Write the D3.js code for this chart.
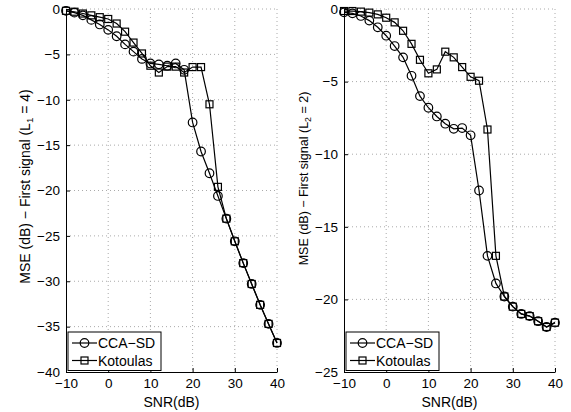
<!DOCTYPE html>
<html>
<head>
<meta charset="utf-8">
<script src="https://cdn.jsdelivr.net/npm/d3@7"></script>
<style>
  body { margin: 0; background: #fff; }
  text { font-family: "Liberation Sans", Arial, sans-serif; }
</style>
</head>
<body>
<div id="root"></div>
<script>
const snr = [-10, -8, -6, -4, -2, 0, 2, 4, 6, 8, 10, 12, 14, 16, 18, 20, 22, 24, 26, 28, 30, 32, 34, 36, 38, 40]

// left panel (L1 = 4)
const ccaLeft = [-0.2, -0.4, -0.7, -1.2, -1.7, -2.3, -3.0, -3.9, -4.7, -5.5, -6.0, -6.1, -6.25, -6.0, -6.7,
    -12.5, -15.7, -18.1, -20.6, -23.1, -25.6, -28.0, -30.3, -32.6, -34.7, -36.8]
const kotLeft = [-0.2, -0.3, -0.5, -0.7, -0.9, -1.1, -1.6, -2.5, -3.7, -4.9, -6.25, -7.0, -6.35, -6.35, -7.0,
    -6.4, -6.4, -10.5, -19.6, -23.1, -25.6, -28.0, -30.3, -32.6, -34.7, -36.8]

// right panel (L2 = 2)
const ccaRight = [-0.23, -0.3, -0.48, -0.8, -1.26, -1.84, -2.55, -3.33, -4.6, -6.0, -6.8, -7.4, -7.9, -8.25, -8.2,
    -8.7, -12.5, -17.0, -18.9, -19.8, -20.5, -21.0, -21.15, -21.5, -21.9, -21.6]
const kotRight = [-0.14, -0.14, -0.18, -0.25, -0.37, -0.6, -0.92, -1.5, -2.4, -3.5, -4.43, -4.16, -2.94, -3.33, -4.0,
    -4.67, -4.94, -8.3, -17.0, -19.8, -20.5, -21.0, -21.15, -21.5, -21.9, -21.6]

const xTicks = [-10, 0, 10, 20, 30, 40]
const yTicksLeft = [0, -5, -10, -15, -20, -25, -30, -35, -40]
const yTicksRight = [0, -5, -10, -15, -20, -25]
const seriesNames = ["CCA\u2212SD", "Kotoulas"]

const w = 571
const h = 412

const svg = d3.select("#root")
    .append("svg")
    .attr("width", w)
    .attr("height", h)

const fmt = d => d < 0 ? "\u2212" + Math.abs(d) : String(d)

function drawPanel(x0, x1, yMin, yTicks, cca, kot, sub, lval, labelSize, labelShift) {
    const top = 9
    const bottom = 372
    const x = d3.scaleLinear().domain([-10, 40]).range([x0, x1])
    const y = d3.scaleLinear().domain([yMin, 0]).range([bottom, top])
    const g = svg.append("g")

    // grid
    g.selectAll("line.gx")
        .data(xTicks.slice(1))
        .enter()
        .append("line")
        .attr("x1", d => x(d)).attr("x2", d => x(d))
        .attr("y1", top).attr("y2", bottom)
        .attr("stroke", "#aaa").attr("stroke-width", 1)
        .attr("stroke-dasharray", "1,3")
    g.selectAll("line.gy")
        .data(yTicks.slice(0, -1))
        .enter()
        .append("line")
        .attr("x1", x0).attr("x2", x1)
        .attr("y1", d => y(d)).attr("y2", d => y(d))
        .attr("stroke", "#aaa").attr("stroke-width", 1)
        .attr("stroke-dasharray", "1,3")

    // axes
    const xAxis = d3.axisBottom(x).tickValues(xTicks).tickFormat(fmt).tickSizeInner(-4).tickSizeOuter(0).tickPadding(6)
    const yAxis = d3.axisLeft(y).tickValues(yTicks).tickFormat(fmt).tickSizeInner(-4).tickSizeOuter(0).tickPadding(6)
    const ax = g.append("g").attr("transform", `translate(0,${bottom})`).call(xAxis)
    const ay = g.append("g").attr("transform", `translate(${x0},0)`).call(yAxis)
    ;[ax, ay].forEach(a => {
        a.select(".domain").attr("stroke", "#000").attr("stroke-width", 1)
        a.selectAll(".tick line").attr("stroke", "#000")
        a.selectAll("text").attr("font-size", 13.5).attr("fill", "#000")
            .style("font-family", "'Liberation Sans', Arial, sans-serif")
    })

    // lines
    const line = d3.line()
        .x((d, i) => x(snr[i]))
        .y(d => y(d))
    ;[cca, kot].forEach(s => {
        g.append("path")
            .attr("d", line(s))
            .attr("fill", "none")
            .attr("stroke", "#000")
            .attr("stroke-width", 1.2)
    })
    g.selectAll("circle.cca")
        .data(cca)
        .enter()
        .append("circle")
        .attr("cx", (d, i) => x(snr[i]))
        .attr("cy", d => y(d))
        .attr("r", 4.3)
        .attr("fill", "none")
        .attr("stroke", "#000")
        .attr("stroke-width", 1.2)
    g.selectAll("rect.kot")
        .data(kot)
        .enter()
        .append("rect")
        .attr("x", (d, i) => x(snr[i]) - 3.5)
        .attr("y", d => y(d) - 3.5)
        .attr("width", 7)
        .attr("height", 7)
        .attr("fill", "none")
        .attr("stroke", "#000")
        .attr("stroke-width", 1.2)

    // labels
    g.append("text")
        .attr("x", (x0 + x1) / 2)
        .attr("y", 407)
        .attr("text-anchor", "middle")
        .attr("font-size", 14)
        .text("SNR(dB)")
    const yl = g.append("text")
        .attr("transform", `translate(${x0 - 36},${(top + bottom) / 2 + labelShift}) rotate(-90)`)
        .attr("text-anchor", "middle")
        .attr("font-size", labelSize)
    yl.append("tspan").text("MSE (dB) \u2212 First signal (L")
    yl.append("tspan").attr("font-size", labelSize * 0.7).attr("dy", 3).text(sub)
    yl.append("tspan").attr("dy", -3).text(" = " + lval + ")")

    // legend
    const lg = g.append("g").attr("transform", `translate(${x0 + 2},332)`)
    lg.append("rect")
        .attr("width", 93).attr("height", 38.5)
        .attr("fill", "#fff").attr("stroke", "#000").attr("stroke-width", 1)
    seriesNames.forEach((name, i) => {
        const cy = 11 + i * 17.5
        lg.append("line").attr("x1", 4).attr("x2", 29).attr("y1", cy).attr("y2", cy)
            .attr("stroke", "#000").attr("stroke-width", 1.2)
        if (i === 0) {
            lg.append("circle").attr("cx", 16.5).attr("cy", cy).attr("r", 4.3)
                .attr("fill", "none").attr("stroke", "#000").attr("stroke-width", 1.2)
        } else {
            lg.append("rect").attr("x", 13).attr("y", cy - 3.5).attr("width", 7).attr("height", 7)
                .attr("fill", "none").attr("stroke", "#000").attr("stroke-width", 1.2)
        }
        lg.append("text").attr("x", 30).attr("y", cy + 5)
            .attr("font-size", 14).text(name)
    })
}

drawPanel(66, 277, -40, yTicksLeft, ccaLeft, kotLeft, "1", 4, 14, -4)
drawPanel(344, 555, -25, yTicksRight, ccaRight, kotRight, "2", 2, 12.5, -12)
</script>
</body>
</html>
